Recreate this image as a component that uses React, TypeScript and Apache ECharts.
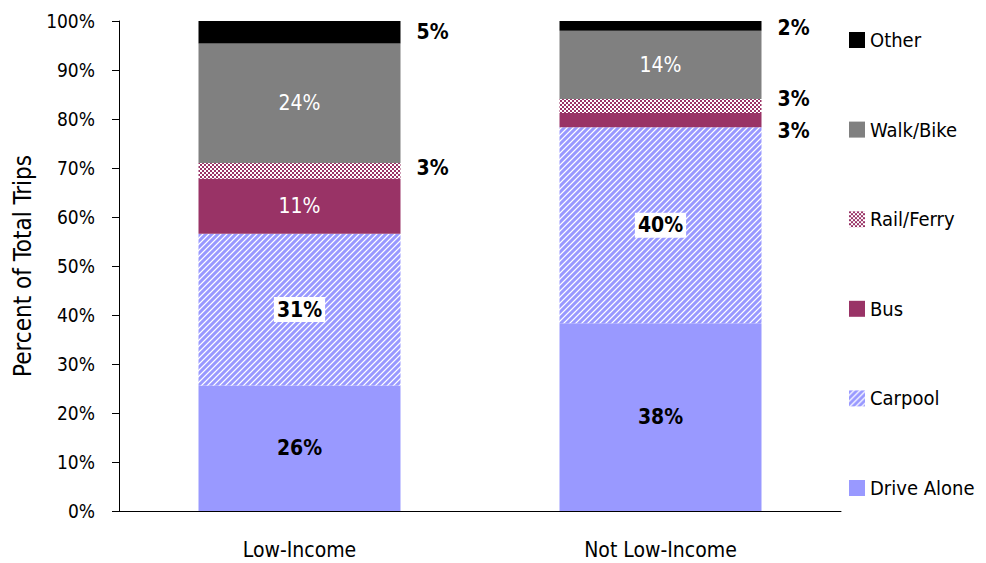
import React, { useEffect, useRef } from "react";
import * as echarts from "echarts";

const categories = ["Low-Income", "Not Low-Income"];
const driveAlone = [25.6, 38.3];
const carpool = [31.0, 40.0];
const bus = [11.2, 2.9];
const railFerry = [3.2, 2.9];
const walkBike = [24.4, 13.9];
const other = [4.6, 2.0];
const yTicks = [0, 10, 20, 30, 40, 50, 60, 70, 80, 90, 100];
const legendOrder = ["Other", "Walk/Bike", "Rail/Ferry", "Bus", "Carpool", "Drive Alone"];

const FONT = "'Liberation Sans Narrow', 'Arial Narrow', 'DejaVu Sans Condensed', sans-serif";

function makeStripe(): HTMLCanvasElement {
  const n = 6;
  const c = document.createElement("canvas");
  c.width = n;
  c.height = n;
  const ctx = c.getContext("2d")!;
  const cols = ["#9999FF", "#9999FF", "#9999FF", "#C0C0FF", "#FFFFFF", "#C0C0FF"];
  for (let y = 0; y < n; y++) {
    for (let x = 0; x < n; x++) {
      ctx.fillStyle = cols[(x + y) % n];
      ctx.fillRect(x, y, 1, 1);
    }
  }
  return c;
}

function makeChecker(): HTMLCanvasElement {
  const c = document.createElement("canvas");
  c.width = 4;
  c.height = 4;
  const ctx = c.getContext("2d")!;
  ctx.fillStyle = "#FFFFFF";
  ctx.fillRect(0, 0, 4, 4);
  ctx.fillStyle = "#993366";
  ctx.fillRect(0, 0, 2, 2);
  ctx.fillRect(2, 2, 2, 2);
  return c;
}

const pct = (p: any) => Math.round(p.value) + "%";

export default function App() {
  const ref = useRef<HTMLDivElement>(null);
  useEffect(() => {
    if (!ref.current) return;
    const chart = echarts.init(ref.current, null, { renderer: "svg" });
    const stripe = makeStripe();
    const checker = makeChecker();
    const stripeFill: any = { image: stripe, repeat: "repeat", imageWidth: 6, imageHeight: 6 };
    const checkerFill: any = { image: checker, repeat: "repeat", imageWidth: 4, imageHeight: 4 };

    const boldBlack = { color: "#000", fontWeight: "bold", fontSize: 21, fontFamily: FONT };
    const whiteNormal = { color: "#fff", fontWeight: "normal", fontSize: 21, fontFamily: FONT };
    const outside = (dy: number) => ({
      show: true,
      position: "right",
      distance: 16,
      offset: [0, dy],
      ...boldBlack,
      formatter: pct,
    });

    const option: any = {
      animation: false,
      backgroundColor: "#ffffff",
      textStyle: { fontFamily: FONT },
      grid: { left: 119, right: 145, top: 21, bottom: 52, containLabel: false, outerBoundsMode: "none" },
      legend: {
        orient: "vertical",
        left: 844,
        top: 22,
        icon: "rect",
        itemWidth: 16,
        itemHeight: 16,
        itemGap: 63.6,
        data: legendOrder,
        textStyle: { fontSize: 20, lineHeight: 26, color: "#000", fontFamily: FONT },
      },
      xAxis: {
        type: "category",
        data: categories,
        axisLine: { lineStyle: { color: "#000", width: 1 } },
        axisTick: { show: false },
        axisLabel: { fontSize: 21, color: "#000", margin: 28, fontFamily: FONT },
        splitLine: { show: false },
      },
      yAxis: {
        type: "value",
        min: yTicks[0],
        max: yTicks[yTicks.length - 1],
        interval: 10,
        name: "Percent of Total Trips",
        nameLocation: "middle",
        nameRotate: 90,
        nameGap: 81,
        nameTextStyle: { fontSize: 24, color: "#000", fontFamily: FONT },
        axisLine: { show: true, lineStyle: { color: "#000", width: 1 } },
        axisTick: { show: true, length: 7, lineStyle: { color: "#000" } },
        axisLabel: { fontSize: 19, color: "#000", margin: 24, formatter: "{value}%", fontFamily: FONT },
        splitLine: { show: false },
      },
      series: [
        {
          name: "Drive Alone",
          type: "bar",
          stack: "t",
          barWidth: 202,
          data: driveAlone,
          itemStyle: { color: "#9999FF" },
          label: { show: true, position: "inside", ...boldBlack, formatter: pct },
        },
        {
          name: "Carpool",
          type: "bar",
          stack: "t",
          barWidth: 202,
          data: carpool,
          itemStyle: { color: stripeFill },
          label: {
            show: true,
            position: "inside",
            ...boldBlack,
            backgroundColor: "#fff",
            padding: [3, 3, 1, 3],
            formatter: pct,
          },
        },
        {
          name: "Bus",
          type: "bar",
          stack: "t",
          barWidth: 202,
          data: bus.map((v, i) => (i === 1 ? { value: v, label: outside(11) } : v)),
          itemStyle: { color: "#993366" },
          label: { show: true, position: "inside", ...whiteNormal, formatter: pct },
        },
        {
          name: "Rail/Ferry",
          type: "bar",
          stack: "t",
          barWidth: 202,
          data: railFerry.map((v, i) => ({ value: v, label: outside(i === 0 ? -3 : -7) })),
          itemStyle: { color: checkerFill },
          label: outside(0),
        },
        {
          name: "Walk/Bike",
          type: "bar",
          stack: "t",
          barWidth: 202,
          data: walkBike,
          itemStyle: { color: "#808080" },
          label: { show: true, position: "inside", ...whiteNormal, formatter: pct },
        },
        {
          name: "Other",
          type: "bar",
          stack: "t",
          barWidth: 202,
          data: other.map((v, i) => ({ value: v, label: outside(i === 0 ? 0 : 2) })),
          itemStyle: { color: "#000000" },
          label: outside(0),
        },
      ],
    };
    chart.setOption(option);
    return () => chart.dispose();
  }, []);
  return (
    <div
      ref={ref}
      style={{ position: "fixed", left: 0, top: 0, width: 986, height: 563, background: "#fff" }}
    />
  );
}
